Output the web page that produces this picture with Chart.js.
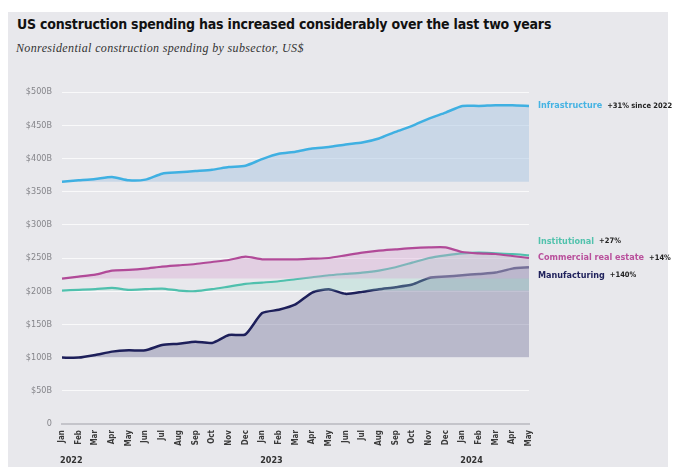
<!DOCTYPE html>
<html>
<head>
<meta charset="utf-8">
<script src="https://cdn.jsdelivr.net/npm/chart.js@4.4.1/dist/chart.umd.min.js"></script>
<style>
  body { margin: 0; background: #fff; }
  #wrap { position: relative; width: 678px; height: 467px; overflow: hidden; }
  #panel { position: absolute; left: 8px; top: 12px; width: 660px; height: 455px; background: #e8e8ec; }
  #title { position: absolute; left: 17px; top: 16px; font: bold 14px "Liberation Sans Narrow", "DejaVu Sans Condensed", sans-serif; color: #111; letter-spacing: -0.2px; white-space: nowrap; }
  #subtitle { position: absolute; left: 16px; top: 41px; font: italic 12px "Liberation Serif", serif; color: #333; letter-spacing: 0.35px; white-space: nowrap; }
  canvas { position: absolute; left: 0; top: 0; }
</style>
</head>
<body>
<div id="wrap">
  <div id="panel"></div>
  <div id="title">US construction spending has increased considerably over the last two years</div>
  <div id="subtitle">Nonresidential construction spending by subsector, US$</div>
  <canvas id="chart" width="678" height="467"></canvas>
</div>
<script>
// monthly, Jan 2022 - May 2024, $bn
const months = ["Jan","Feb","Mar","Apr","May","Jun","Jul","Aug","Sep","Oct","Nov","Dec",
                "Jan","Feb","Mar","Apr","May","Jun","Jul","Aug","Sep","Oct","Nov","Dec",
                "Jan","Feb","Mar","Apr","May"];
const years = ["2022", "2023", "2024"];

const infrastructure = [365,367,369,372,367,368,377,379,381,383,387,389,399,407,410,415,417,421,424,430,440,449,460,469,479,479,480,480,479];
const institutional  = [201,202,203,205,202,203,204,201,200,203,207,211,213,215,218,221,224,226,228,231,236,243,250,254,257,258,257,256,254];
const commercial     = [219,222,225,231,232,234,237,239,241,244,247,252,248,248,248,249,250,254,258,261,263,265,266,266,259,257,256,253,250];
const manufacturing  = [100,100,104,109,111,111,119,121,124,122,134,135,167,172,180,198,203,196,199,203,206,210,220,222,224,226,228,234,236];

const seriesLabels = [
  { name: "Infrastructure", note: "+31% since 2022", color: "#45b3e3", data: infrastructure, dy: 0 },
  { name: "Institutional", note: "+27%", color: "#52c2ad", data: institutional, dy: -14 },
  { name: "Commercial real estate", note: "+14%", color: "#b9509c", data: commercial, dy: 0 },
  { name: "Manufacturing", note: "+140%", color: "#20225c", data: manufacturing, dy: 8 }
];

const narrow = '"Liberation Sans Narrow", "DejaVu Sans Condensed", sans-serif';

const sideLabels = {
  id: "sideLabels",
  afterDraw(chart) {
    const ctx = chart.ctx;
    const xs = chart.scales.x, ys = chart.scales.y;
    ctx.save();
    ctx.textBaseline = "middle";
    seriesLabels.forEach(s => {
      const y = ys.getPixelForValue(s.data[s.data.length - 1]) + s.dy;
      const x = chart.chartArea.right + 9;
      ctx.font = "bold 9px " + narrow;
      ctx.fillStyle = s.color;
      ctx.fillText(s.name, x, y);
      const w = ctx.measureText(s.name).width;
      ctx.font = "bold 7.5px " + narrow;
      ctx.fillStyle = "#222";
      ctx.fillText(s.note, x + w + 5, y);
    });
    // year labels under each January
    ctx.font = "bold 9px " + narrow;
    ctx.fillStyle = "#333";
    let k = 0;
    months.forEach((m, i) => {
      if (m === "Jan" && k < years.length) {
        ctx.fillText(years[k], xs.getPixelForValue(i) - 2, 461);
        k++;
      }
    });
    ctx.restore();
  }
};

function ds(label, data, color, fillColor, width) {
  return {
    label: label,
    data: data,
    borderColor: color,
    backgroundColor: fillColor,
    borderWidth: width,
    pointRadius: 0,
    tension: 0.2,
    fill: { value: data[0] }
  };
}

new Chart(document.getElementById("chart"), {
  type: "line",
  data: {
    labels: months,
    datasets: [
      ds("Infrastructure", infrastructure, "#3fb0e2", "rgba(170,198,226,0.5)", 2.5),
      ds("Commercial real estate", commercial, "#b14a98", "rgba(214,160,208,0.35)", 2.2),
      ds("Institutional", institutional, "#4fc0ad", "rgba(150,220,200,0.3)", 2.2),
      ds("Manufacturing", manufacturing, "#1d1f5a", "rgba(118,118,158,0.42)", 2.5)
    ]
  },
  options: {
    responsive: false,
    animation: false,
    layout: { padding: { top: 92, right: 149, bottom: 13, left: 0 } },
    plugins: { legend: { display: false }, tooltip: { enabled: false } },
    scales: {
      x: {
        grid: { display: false, drawTicks: false },
        border: { display: true, color: "#c4c4ca", width: 2 },
        ticks: {
          autoSkip: false, minRotation: 90, maxRotation: 90, padding: 6,
          color: "#3a3a3a", font: { family: narrow, size: 8, weight: "bold" }
        },
        afterFit: s => { s.height = 30; }
      },
      y: {
        min: 0, max: 500,
        grid: { color: "rgba(255,255,255,0.75)", drawTicks: false },
        border: { display: false },
        ticks: {
          stepSize: 50, padding: 10, color: "#85858a",
          font: { family: narrow, size: 9 },
          callback: v => v === 0 ? "0" : "$" + v + "B"
        },
        afterFit: s => { s.width = 62; }
      }
    }
  },
  plugins: [sideLabels]
});
</script>
</body>
</html>
